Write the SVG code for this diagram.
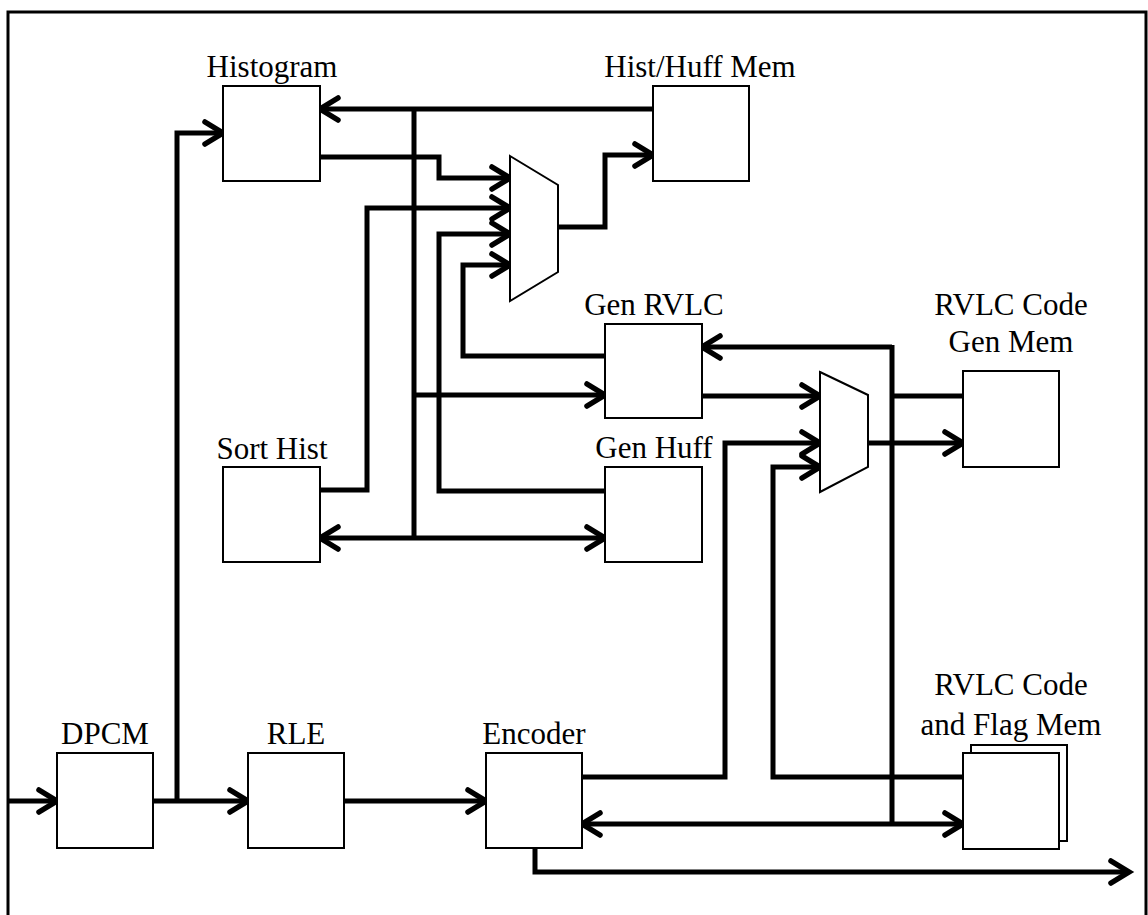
<svg xmlns="http://www.w3.org/2000/svg" width="1148" height="915" viewBox="0 0 1148 915">
  <defs>
    <marker id="ah" markerUnits="userSpaceOnUse" markerWidth="30" markerHeight="30" refX="0" refY="0" orient="auto-start-reverse" overflow="visible">
      <path d="M-18,-11 L0,0 L-18,11" fill="none" stroke="#000" stroke-width="5.5" stroke-linecap="round" stroke-linejoin="miter"/>
    </marker>
    <style>
      .box { fill: #fff; stroke: #000; stroke-width: 2; }
      .mux { fill: #fff; stroke: #000; stroke-width: 2; }
      .lbl { font-family: "Liberation Serif", "Times New Roman", serif; font-size: 31px; fill: #000; text-anchor: middle; }
      .w { fill: none; stroke: #000; stroke-width: 5; stroke-linejoin: miter; stroke-linecap: butt; }
      .a { marker-end: url(#ah); }
      .b { marker-start: url(#ah); marker-end: url(#ah); }
    </style>
  </defs>
  <rect x="0" y="0" width="1148" height="915" fill="#fff"/>
  <rect x="8" y="12" width="1138" height="960" fill="none" stroke="#000" stroke-width="3"/>

  <g id="connectors">
    <path class="w a" d="M8,801 H57"/>
    <path class="w a" d="M153,801 H248"/>
    <path class="w a" d="M177,801 V133 H223"/>
    <path class="w a" d="M344,801 H486"/>
    <path class="w a" d="M535,848 V872 H1129"/>
    <path class="w a" d="M653,109 H320"/>
    <path class="w" d="M414,109 V538"/>
    <path class="w a" d="M414,395 H605"/>
    <path class="w b" d="M320,538 H605"/>
    <path class="w a" d="M320,157 H439 V178 H510"/>
    <path class="w a" d="M320,490 H367 V208 H510"/>
    <path class="w a" d="M605,491 H439 V234 H510"/>
    <path class="w a" d="M605,356 H463 V265 H510"/>
    <path class="w a" d="M558,227 H605 V155 H653"/>
    <path class="w a" d="M702,396 H820"/>
    <path class="w a" d="M892,347 H702"/>
    <path class="w" d="M892,345 V824"/>
    <path class="w" d="M963,396 H892"/>
    <path class="w b" d="M582,824 H963"/>
    <path class="w a" d="M582,777 H725 V443 H820"/>
    <path class="w a" d="M963,777 H773 V467 H820"/>
    <path class="w a" d="M868,443 H963"/>
  </g>

  <g id="histogram">
    <rect class="box" x="223" y="86" width="97" height="95"/>
    <text class="lbl" x="272" y="77">Histogram</text>
  </g>
  <g id="hist-huff-mem">
    <rect class="box" x="653" y="86" width="96" height="95"/>
    <text class="lbl" x="700" y="77">Hist/Huff Mem</text>
  </g>
  <g id="mux1">
    <polygon class="mux" points="510,156 558,185 558,272 510,301"/>
  </g>
  <g id="gen-rvlc">
    <rect class="box" x="605" y="324" width="97" height="94"/>
    <text class="lbl" x="654" y="315">Gen RVLC</text>
  </g>
  <g id="rvlc-code-gen-mem">
    <rect class="box" x="963" y="371" width="96" height="96"/>
    <text class="lbl" x="1011" y="315">RVLC Code</text>
    <text class="lbl" x="1011" y="352">Gen Mem</text>
  </g>
  <g id="mux2">
    <polygon class="mux" points="820,372 868,395 868,467 820,492"/>
  </g>
  <g id="sort-hist">
    <rect class="box" x="223" y="467" width="97" height="95"/>
    <text class="lbl" x="272" y="459">Sort Hist</text>
  </g>
  <g id="gen-huff">
    <rect class="box" x="605" y="467" width="97" height="95"/>
    <text class="lbl" x="654" y="458">Gen Huff</text>
  </g>
  <g id="dpcm">
    <rect class="box" x="57" y="753" width="96" height="95"/>
    <text class="lbl" x="105" y="744">DPCM</text>
  </g>
  <g id="rle">
    <rect class="box" x="248" y="753" width="96" height="95"/>
    <text class="lbl" x="296" y="744">RLE</text>
  </g>
  <g id="encoder">
    <rect class="box" x="486" y="753" width="96" height="95"/>
    <text class="lbl" x="534" y="744">Encoder</text>
  </g>
  <g id="rvlc-code-flag-mem">
    <rect class="box" x="971" y="745" width="96" height="96"/>
    <rect class="box" x="963" y="753" width="96" height="96"/>
    <text class="lbl" x="1011" y="695">RVLC Code</text>
    <text class="lbl" x="1011" y="735">and Flag Mem</text>
  </g>
</svg>
